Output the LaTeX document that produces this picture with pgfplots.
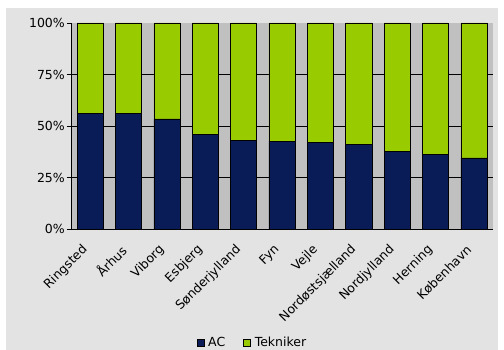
\documentclass[border=0pt]{standalone}
\usepackage{pgfplots}
\pgfplotsset{compat=1.18}
\usepackage{fontspec}
\setmainfont{DejaVu Sans}
\definecolor{navy}{HTML}{0A1C58}
\definecolor{lime}{HTML}{99CC00}
\definecolor{plotbg}{HTML}{C0C0C0}
\definecolor{outerbg}{HTML}{E3E3E3}
\pgfplotstableread{
x AC Tek
0 56.0 44.0
1 56.0 44.0
2 53.5 46.5
3 46.0 54.0
4 43.0 57.0
5 42.6 57.4
6 41.9 58.1
7 41.0 59.0
8 37.5 62.5
9 36.4 63.6
10 34.5 65.5
}\data
\begin{document}
\fontsize{12.5}{14}\selectfont
\begin{tikzpicture}[x=1pt,y=1pt]
\path[use as bounding box, fill=white] (-71,-121) rectangle (433,229);
\fill[outerbg] (-65,-121) rectangle (427,221);
\begin{axis}[
  at={(0,0)}, anchor=south west,
  scale only axis, width=422pt, height=206pt,
  ybar stacked, bar width=0.68,
  xmin=-0.5, xmax=10.5, ymin=0, ymax=100,
  axis background/.style={fill=plotbg},
  axis x line*=bottom, axis y line*=left,
  axis line style={black, -},
  xtick={0,...,10},
  xticklabels={Ringsted,Århus,Viborg,Esbjerg,Sønderjylland,Fyn,Vejle,Nordøstsjælland,Nordjylland,Herning,København},
  x tick style={draw=none},
  minor xtick={-0.5,0.5,...,10.5},
  minor tick length=4pt,
  minor x tick style={black},
  xticklabel style={yshift=-14pt, xshift=-4pt, rotate=45, anchor=east, font=\fontsize{12.5}{14}\selectfont, inner sep=1pt},
  ytick={25,50,75},
  extra y ticks={0,100},
  extra y tick style={grid=none},
  yticklabel={\pgfmathprintnumber{\tick}\%},
  yticklabel style={font=\fontsize{12.5}{14}\selectfont, inner sep=2pt},
  /pgf/number format/assume math mode=true,
  ymajorgrids, grid style={black, line width=0.8pt},
  major tick length=4pt, tick align=outside,
  y tick style={black},
  legend style={at={(0.43,-0.55)}, anchor=center, draw=none, fill=none,
    legend columns=2, font=\fontsize{12.5}{14}\selectfont, inner sep=0pt,
    /tikz/every odd column/.append style={column sep=2pt},
    /tikz/every even column/.append style={column sep=16pt}},
  legend image code/.code={\draw[#1, draw=black, line width=0.5pt] (0pt,-3.5pt) rectangle (7pt,3.5pt);},
]
\addplot[fill=navy, draw=black, line width=0.5pt] table[x=x, y=AC] {\data};
\addplot[fill=lime, draw=black, line width=0.5pt] table[x=x, y=Tek] {\data};
\legend{AC, Tekniker}
\end{axis}
\end{tikzpicture}
\end{document}
